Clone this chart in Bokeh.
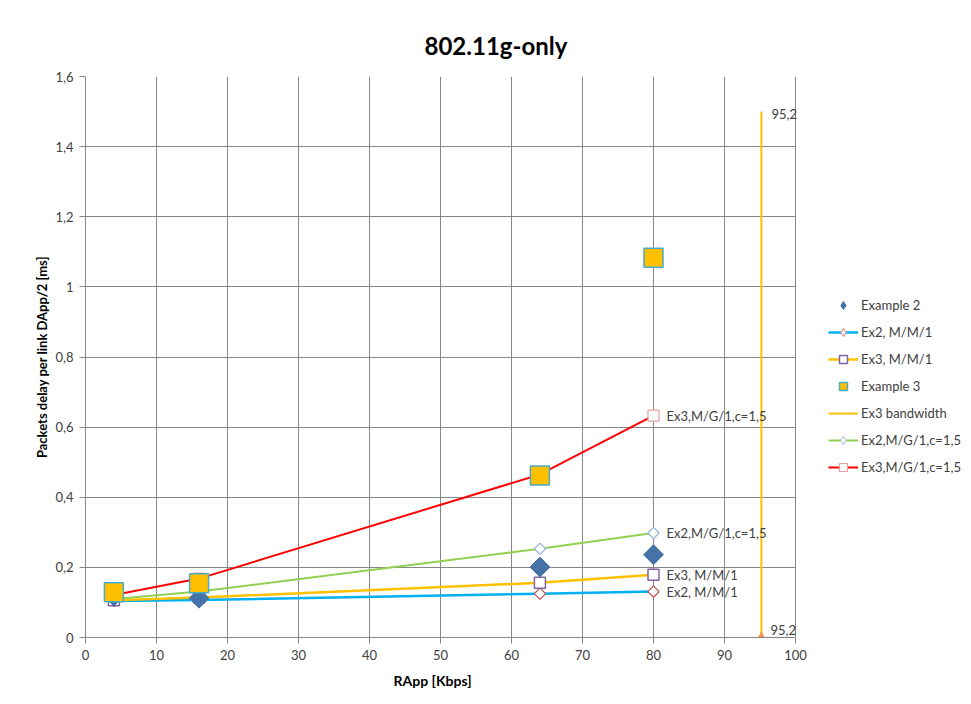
from bokeh.plotting import figure
from bokeh.models import Range1d, Legend, LegendItem, Label, FixedTicker, CustomJSTickFormatter, Title
from bokeh.embed import file_html
from bokeh.resources import INLINE
import math

# ---- data ----
x_rate = [4, 16, 64, 80]
example2 = [0.118, 0.112, 0.201, 0.236]
ex2_mm1 = [0.104, 0.107, 0.125, 0.131]
ex3_mm1 = [0.106, 0.114, 0.156, 0.179]
example3 = [0.129, 0.155, 0.462, 1.083]
ex2_mg1 = [0.110, 0.131, 0.253, 0.298]
ex3_mg1 = [0.121, 0.168, 0.465, 0.633]
bw_x = [95.2, 95.2]
bw_y = [0.0, 1.5]
bw_label = "95,2"
x_ticks = [0, 10, 20, 30, 40, 50, 60, 70, 80, 90, 100]
y_ticks = [0, 0.2, 0.4, 0.6, 0.8, 1.0, 1.2, 1.4, 1.6]

FONT = "Lato"
GRID = "#868686"
TXT = "#404040"

FW, FH = 881, 561
PX_PER_UNIT = 7.1
p = figure(frame_width=FW, frame_height=FH,
           x_range=Range1d(0, FW / PX_PER_UNIT), y_range=Range1d(0, 1.6),
           output_backend="svg", toolbar_location=None,
           min_border_left=85, min_border_top=76, min_border_right=0, min_border_bottom=63,
           title="802.11g-only")
p.title.text_font = FONT
p.title.text_font_size = "24px"
p.title.text_font_style = "bold"
p.title.text_color = "#000000"
p.title.align = "left"
p.title.offset = 339
p.title.standoff = 33
p.outline_line_color = None
p.xgrid.grid_line_color = GRID
p.ygrid.grid_line_color = GRID
p.ygrid.cross_bounds = (0, 100)
p.xaxis.bounds = (0, 100)
p.xaxis.ticker = FixedTicker(ticks=x_ticks)
p.yaxis.ticker = FixedTicker(ticks=y_ticks)
p.yaxis.formatter = CustomJSTickFormatter(code="return String(Math.round(tick*10)/10).replace('.', ',');")
for ax in (p.xaxis, p.yaxis):
    ax.axis_line_color = GRID
    ax.major_tick_line_color = GRID
    ax.major_tick_out = 6
    ax.major_tick_in = 0
    ax.minor_tick_line_color = None
    ax.major_label_text_font = FONT
    ax.major_label_text_font_size = "13px"
    ax.major_label_text_color = TXT
    ax.axis_label_text_font = FONT
    ax.axis_label_text_font_style = "bold"
    ax.axis_label_text_color = "#000000"
p.xaxis.major_label_standoff = 6
p.yaxis.major_label_standoff = 6
p.yaxis.axis_label = "Packets delay per link DApp/2 [ms]"
p.yaxis.axis_label_text_font_size = "13px"
p.yaxis.axis_label_standoff = 2

# x axis title placed as a below-panel title so it can be positioned horizontally
xtitle = Title(text="RApp  [Kbps]", align="left", offset=308, standoff=14,
               text_font=FONT, text_font_style="bold", text_font_size="14px", text_color="#000000")
p.add_layout(xtitle, "below")

# lines
r_ex2mm1_l = p.line(x_rate, ex2_mm1, line_color="#00B0F0", line_width=2.5)
r_ex3mm1_l = p.line(x_rate, ex3_mm1, line_color="#FFC000", line_width=2.5)
r_ex2mg1_l = p.line(x_rate, ex2_mg1, line_color="#92D050", line_width=2)
r_ex3mg1_l = p.line(x_rate, ex3_mg1, line_color="#FF0000", line_width=2)
r_bw = p.line(bw_x, bw_y, line_color="#FFC000", line_width=2)
p.scatter([bw_x[0]], [bw_y[0]], marker="triangle", size=9, fill_color="#F79646", line_color="#F79646")

# diamond glyphs used for the legend (drawn under the rotated-square markers)
lg_ex2mm1 = p.scatter(x_rate, ex2_mm1, marker="diamond", size=10, fill_color="white",
                      line_color="#D99694", line_width=1.2)
lg_ex2mg1 = p.scatter(x_rate, ex2_mg1, marker="diamond", size=10, fill_color="white",
                      line_color="#B9CDE5", line_width=1.2)
lg_ex2 = p.scatter(x_rate, example2, marker="diamond", size=12, fill_color="#4572A7",
                   line_color="#4572A7")

# hollow markers
r_ex2mm1_m = p.scatter(x_rate, ex2_mm1, marker="square", angle=math.pi / 4, size=8,
                       fill_color="white", line_color="#C0504D", line_width=1.2)
r_ex3mm1_m = p.scatter(x_rate, ex3_mm1, marker="square", size=11,
                       fill_color="white", line_color="#8064A2", line_width=1.5)
r_ex2mg1_m = p.scatter(x_rate, ex2_mg1, marker="square", angle=math.pi / 4, size=8,
                       fill_color="white", line_color="#95B3D7", line_width=1.2)
r_ex3mg1_m = p.scatter(x_rate, ex3_mg1, marker="square", size=11,
                       fill_color="white", line_color="#E6A0A0", line_width=1.2)
# filled markers
r_ex2 = p.scatter(x_rate, example2, marker="square", angle=math.pi / 4, size=14,
                  fill_color="#4572A7", line_color="#4572A7")
r_ex3 = p.scatter(x_rate, example3, marker="square", size=19,
                  fill_color="#FFC000", line_color="#4BACC6", line_width=1.5)

# data labels at last point
for val, txt in [(ex3_mg1[-1], "Ex3,M/G/1,c=1,5"), (ex2_mg1[-1], "Ex2,M/G/1,c=1,5"),
                 (ex3_mm1[-1], "Ex3, M/M/1"), (ex2_mm1[-1], "Ex2, M/M/1")]:
    p.add_layout(Label(x=x_rate[-1], y=val, text=txt, x_offset=13, text_baseline="middle",
                       text_font=FONT, text_font_size="13px", text_color=TXT))
p.add_layout(Label(x=bw_x[1], y=bw_y[1], text=bw_label, x_offset=10, y_offset=-2, text_baseline="middle",
                   text_font=FONT, text_font_size="13px", text_color=TXT))
p.add_layout(Label(x=bw_x[0], y=bw_y[0], text=bw_label, x_offset=9, y_offset=8, text_baseline="middle",
                   text_font=FONT, text_font_size="13px", text_color=TXT))

legend = Legend(items=[
    LegendItem(label="Example 2", renderers=[lg_ex2]),
    LegendItem(label="Ex2, M/M/1", renderers=[r_ex2mm1_l, lg_ex2mm1]),
    LegendItem(label="Ex3, M/M/1", renderers=[r_ex3mm1_l, r_ex3mm1_m]),
    LegendItem(label="Example 3", renderers=[r_ex3]),
    LegendItem(label="Ex3 bandwidth", renderers=[r_bw]),
    LegendItem(label="Ex2,M/G/1,c=1,5", renderers=[r_ex2mg1_l, lg_ex2mg1]),
    LegendItem(label="Ex3,M/G/1,c=1,5", renderers=[r_ex3mg1_l, r_ex3mg1_m]),
], location=(743, 160))
legend.margin = 0
legend.padding = 0
legend.border_line_color = None
legend.background_fill_alpha = 0
legend.glyph_width = 30
legend.glyph_height = 20
legend.label_height = 20
legend.spacing = 7
legend.label_standoff = 3
legend.label_text_font = FONT
legend.label_text_font_size = "13px"
legend.label_text_color = TXT
p.add_layout(legend, "center")

open("out.html", "w").write(file_html(p, INLINE))
